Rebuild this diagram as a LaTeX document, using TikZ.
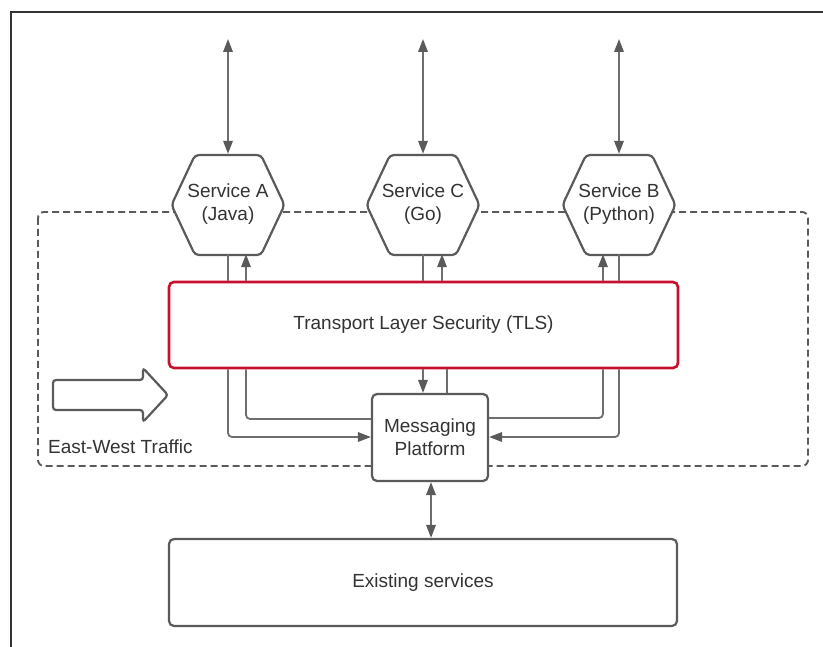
\documentclass[tikz,border=0pt]{standalone}
\usepackage{fontspec}
\setmainfont{Liberation Sans}
\usetikzlibrary{arrows.meta}
\definecolor{lg}{HTML}{6E6E6E}
\definecolor{bd}{HTML}{5A5A5A}
\definecolor{tx}{HTML}{333333}
\definecolor{tlsred}{HTML}{C8102E}
\newcommand\hexpath[2]{\filldraw[hexline] (#1-56.5,#2) -- (#1-33,#2-50) -- (#1+33,#2-50) -- (#1+56.5,#2) -- (#1+33,#2+50) -- (#1-33,#2+50) -- cycle;}
\begin{document}
\begin{tikzpicture}[x=1pt,y=-1pt,
  every node/.style={font=\fontsize{19}{23}\selectfont, text=tx},
  conn/.style={draw=lg, line width=1.8pt, rounded corners=4pt,
    >={Triangle[length=13pt,width=9.5pt,color=bd]}},
  hexline/.style={draw=bd, line width=2.2pt, fill=white, rounded corners=4pt},
  hexnode/.style={minimum width=113pt, minimum height=100pt, inner sep=0pt, align=center},
  boxnode/.style={draw=bd, line width=2.2pt, fill=white, rounded corners=5pt, align=center, inner sep=0pt},
  tlsbox/.style={draw=tlsred, line width=2.6pt, fill=white, rounded corners=5pt, inner sep=0pt},
  dashbox/.style={draw=bd, line width=1.9pt, dash pattern=on 7pt off 4pt, rounded corners=6pt},
  outerline/.style={draw=tx, line width=1.2pt},
  blockarrow/.style={draw=bd, line width=2.2pt, fill=white, rounded corners=3pt}
]
\useasboundingbox (0,0) rectangle (823,647);
\draw[outerline] (11,647) -- (11,12) -- (823,12);

% dashed zone
\draw[dashbox] (38,212) rectangle (808,466);

% hexagons
\hexpath{228}{205}
\hexpath{423}{205}
\hexpath{619}{205}
\node[hexnode] (sa) at (228,204) {Service A\\(Java)};
\node[hexnode] (sc) at (423,204) {Service C\\(Go)};
\node[hexnode] (sb) at (619,204) {Service B\\(Python)};

% boxes
\node[tlsbox, minimum width=509pt, minimum height=86pt] (tls) at (423.5,325) {Transport Layer Security (TLS)};
\node[boxnode, minimum width=116pt, minimum height=87pt] (mp) at (430,437.5) {Messaging\\Platform};
\node[boxnode, minimum width=508pt, minimum height=87pt] (es) at (423,582.5) {Existing services};

% external arrows
\coordinate (ta) at (228,39);
\coordinate (tc) at (423,39);
\coordinate (tb) at (619,39);
\draw[conn,<->] (ta) -- (sa.north);
\draw[conn,<->] (tc) -- (sc.north);
\draw[conn,<->] (tb) -- (sb.north);

% hexagon <-> TLS
\draw[conn] (sa.south) -- (228,0 |- tls.north);
\draw[conn,->] (246,0 |- tls.north) -- (246,0 |- sa.south);
\draw[conn] (sc.south) -- (423,0 |- tls.north);
\draw[conn,->] (442,0 |- tls.north) -- (442,0 |- sc.south);
\draw[conn,->] (603,0 |- tls.north) -- (603,0 |- sb.south);
\draw[conn] (sb.south) -- (619,0 |- tls.north);

% TLS <-> messaging platform
\draw[conn,->] (228,0 |- tls.south) |- (mp.west |- 0,437);
\draw[conn] (246,0 |- tls.south) |- (mp.west |- 0,419);
\draw[conn,->] (423,0 |- tls.south) -- (423,0 |- mp.north);
\draw[conn] (447,0 |- mp.north) -- (447,0 |- tls.south);
\draw[conn] (603,0 |- tls.south) |- (mp.east |- 0,418);
\draw[conn,->] (619,0 |- tls.south) |- (mp.east |- 0,437);

% messaging platform <-> existing services
\draw[conn,<->] (431,0 |- mp.south) -- (431,0 |- es.north);

% east-west block arrow
\draw[blockarrow] (53,380) -- (143,380) -- (143,368) -- (168,395) -- (143,422) -- (143,410) -- (53,410) -- cycle;
\node[anchor=west, inner sep=0pt] (ew) at (48,447) {East-West Traffic};
\end{tikzpicture}
\end{document}
